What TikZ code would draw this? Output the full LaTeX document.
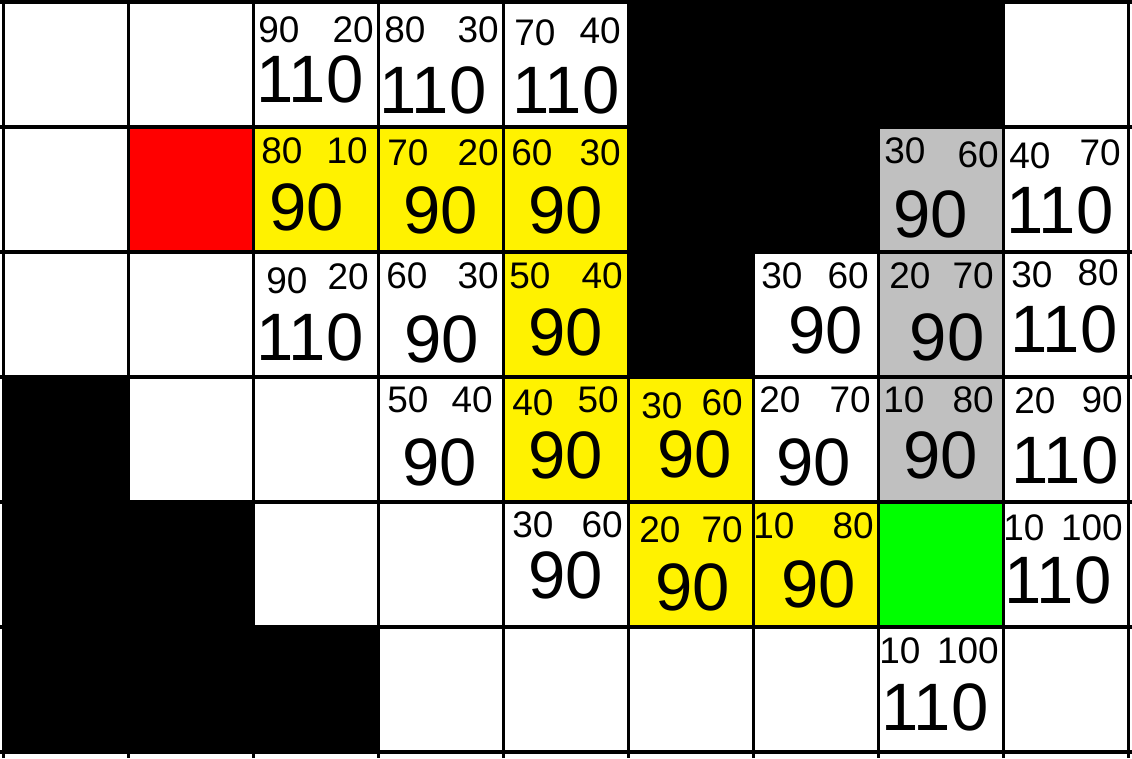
\documentclass[tikz,border=0pt]{standalone}
\usepackage{fontspec}
\setmainfont{Liberation Sans}
\definecolor{cyel}{RGB}{255,242,0}
\definecolor{cred}{RGB}{255,0,0}
\definecolor{cgray}{RGB}{192,192,192}
\definecolor{cgreen}{RGB}{0,255,0}
\newcommand\cellfill[3]{\fill[#3] ({3.5+125*#1},{2+125*#2}) rectangle ({128.5+125*#1},{127+125*#2});}
\begin{document}
\begin{tikzpicture}[x=0.025cm,y=-0.025cm,
  lnum/.style={anchor=base west,inner sep=0pt,font=\fontsize{26.3}{27}\selectfont},
  rnum/.style={anchor=base east,inner sep=0pt,font=\fontsize{26.3}{27}\selectfont},
  bnum/.style={anchor=base,inner sep=0pt,font=\fontsize{47.7}{48}\selectfont},
  gridline/.style={line width=2.4pt,black}]
\useasboundingbox (0,0) rectangle (1132,758);
\fill[white] (0,0) rectangle (1132,758);
% black cells
\foreach \c/\r in {5/0,6/0,7/0,5/1,6/1,5/2,0/3,0/4,1/4,0/5,1/5,2/5} {\cellfill{\c}{\r}{black}}
\cellfill{1}{1}{cred}
\foreach \c/\r in {2/1,3/1,4/1,4/2,4/3,5/3,5/4,6/4} {\cellfill{\c}{\r}{cyel}}
\foreach \c/\r in {7/1,7/2,7/3} {\cellfill{\c}{\r}{cgray}}
\cellfill{7}{4}{cgreen}
% grid
\foreach \i in {0,...,9} {\draw[gridline] ({3.5+125*\i},0) -- ({3.5+125*\i},758);}
\foreach \j in {0,...,6} {\draw[gridline] (0,{2+125*\j}) -- (1132,{2+125*\j});}
% row 0
\node[lnum] (r0c2l) at (258,42) {90};  \node[rnum] (r0c2r) at (374,42) {20};  \node[bnum] (r0c2b) at (310,102) {110};
\node[lnum] (r0c3l) at (384,42) {80};  \node[rnum] (r0c3r) at (499,42) {30};  \node[bnum] (r0c3b) at (433,113) {110};
\node[lnum] (r0c4l) at (514,45) {70};  \node[rnum] (r0c4r) at (621,43) {40};  \node[bnum] (r0c4b) at (566,113) {110};
% row 1
\node[lnum] (r1c2l) at (261,163) {80}; \node[rnum] (r1c2r) at (368,163) {10}; \node[bnum] (r1c2b) at (307,230) {90};
\node[lnum] (r1c3l) at (387,165) {70}; \node[rnum] (r1c3r) at (499,165) {20}; \node[bnum] (r1c3b) at (441,233) {90};
\node[lnum] (r1c4l) at (511,165) {60}; \node[rnum] (r1c4r) at (621,165) {30}; \node[bnum] (r1c4b) at (566,233) {90};
\node[lnum] (r1c7l) at (884,163) {30}; \node[rnum] (r1c7r) at (999,167) {60}; \node[bnum] (r1c7b) at (931,237) {90};
\node[lnum] (r1c8l) at (1009,168) {40}; \node[rnum] (r1c8r) at (1121,165) {70}; \node[bnum] (r1c8b) at (1060,233) {110};
% row 2
\node[lnum] (r2c2l) at (266,293) {90}; \node[rnum] (r2c2r) at (369,289) {20}; \node[bnum] (r2c2b) at (310,360) {110};
\node[lnum] (r2c3l) at (386,288) {60}; \node[rnum] (r2c3r) at (499,288) {30}; \node[bnum] (r2c3b) at (442,362) {90};
\node[lnum] (r2c4l) at (509,288) {50}; \node[rnum] (r2c4r) at (623,288) {40}; \node[bnum] (r2c4b) at (566,355) {90};
\node[lnum] (r2c6l) at (761,288) {30}; \node[rnum] (r2c6r) at (869,288) {60}; \node[bnum] (r2c6b) at (826,353) {90};
\node[lnum] (r2c7l) at (889,288) {20}; \node[rnum] (r2c7r) at (994,288) {70}; \node[bnum] (r2c7b) at (947,360) {90};
\node[lnum] (r2c8l) at (1011,287) {30}; \node[rnum] (r2c8r) at (1119,285) {80}; \node[bnum] (r2c8b) at (1064,352) {110};
% row 3
\node[lnum] (r3c3l) at (387,412) {50}; \node[rnum] (r3c3r) at (493,412) {40}; \node[bnum] (r3c3b) at (440,485) {90};
\node[lnum] (r3c4l) at (512,415) {40}; \node[rnum] (r3c4r) at (619,412) {50}; \node[bnum] (r3c4b) at (566,478) {90};
\node[lnum] (r3c5l) at (641,418) {30}; \node[rnum] (r3c5r) at (743,415) {60}; \node[bnum] (r3c5b) at (695,477) {90};
\node[lnum] (r3c6l) at (759,412) {20}; \node[rnum] (r3c6r) at (871,412) {70}; \node[bnum] (r3c6b) at (814,485) {90};
\node[lnum] (r3c7l) at (883,412) {10}; \node[rnum] (r3c7r) at (994,412) {80}; \node[bnum] (r3c7b) at (941,478) {90};
\node[lnum] (r3c8l) at (1014,413) {20}; \node[rnum] (r3c8r) at (1123,412) {90}; \node[bnum] (r3c8b) at (1065,483) {110};
% row 4
\node[lnum] (r4c4l) at (512,537) {30}; \node[rnum] (r4c4r) at (623,537) {60}; \node[bnum] (r4c4b) at (566,598) {90};
\node[lnum] (r4c5l) at (639,542) {20}; \node[rnum] (r4c5r) at (743,542) {70}; \node[bnum] (r4c5b) at (693,610) {90};
\node[lnum] (r4c6l) at (753,538) {10}; \node[rnum] (r4c6r) at (874,538) {80}; \node[bnum] (r4c6b) at (819,607) {90};
\node[lnum] (r4c8l) at (1003,540) {10}; \node[rnum] (r4c8r) at (1123,540) {100}; \node[bnum] (r4c8b) at (1058,603) {110};
% row 5
\node[lnum] (r5c7l) at (879,663) {10}; \node[rnum] (r5c7r) at (999,663) {100}; \node[bnum] (r5c7b) at (935,730) {110};
\end{tikzpicture}
\end{document}
